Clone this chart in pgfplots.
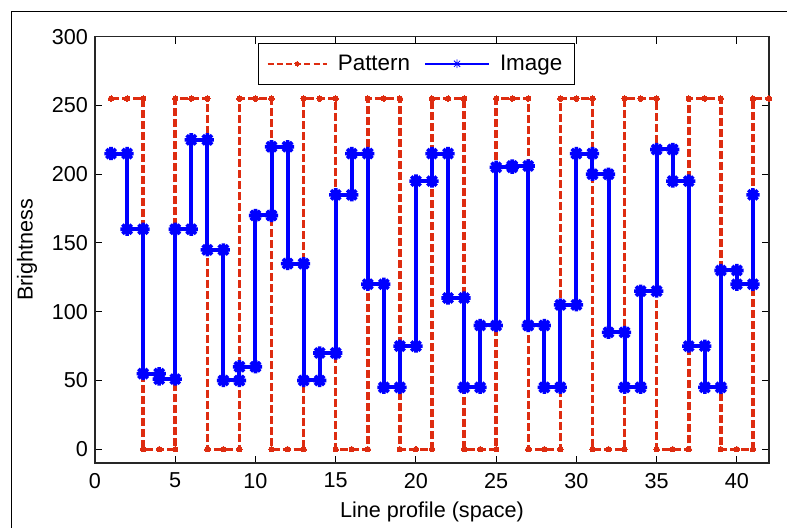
\documentclass[border=0pt]{standalone}
\usepackage{fontspec}
\setmainfont{Liberation Sans}
\usepackage{pgfplots}
\pgfplotsset{compat=1.18}
\definecolor{patred}{RGB}{222,44,16}
\definecolor{imgblue}{RGB}{0,0,255}
\pgfdeclareplotmark{mstar}{%
 \pgfpathmoveto{\pgfqpoint{-\pgfplotmarksize}{0pt}}\pgfpathlineto{\pgfqpoint{\pgfplotmarksize}{0pt}}%
 \pgfpathmoveto{\pgfqpoint{0pt}{-\pgfplotmarksize}}\pgfpathlineto{\pgfqpoint{0pt}{\pgfplotmarksize}}%
 \pgfpathmoveto{\pgfqpoint{-0.707\pgfplotmarksize}{-0.707\pgfplotmarksize}}\pgfpathlineto{\pgfqpoint{0.707\pgfplotmarksize}{0.707\pgfplotmarksize}}%
 \pgfpathmoveto{\pgfqpoint{-0.707\pgfplotmarksize}{0.707\pgfplotmarksize}}\pgfpathlineto{\pgfqpoint{0.707\pgfplotmarksize}{-0.707\pgfplotmarksize}}%
 \pgfusepathqstroke}
\begin{document}
\begin{tikzpicture}[font=\fontsize{10.8}{13}\selectfont]
\path[use as bounding box] (0pt,0pt) rectangle (393.5pt,263.5pt);
\draw[line width=0.5pt] (5.5pt,-1pt) -- (5.5pt,258pt) -- (395pt,258pt);
\begin{axis}[
  at={(47.5pt,32pt)}, anchor=south west,
  scale only axis, width=337pt, height=213.15pt,
  xmin=0, xmax=42, ymin=-10, ymax=300,
  xtick={0,5,...,40}, ytick={0,50,...,300},
  tick align=inside, major tick length=3.5pt,
  axis line style={line width=0.6pt, black!85},
  tick style={black, line width=0.5pt},
  /pgf/number format/assume math mode=true,
  xticklabel style={yshift=-1.5pt},
  xlabel={Line profile (space)},
  ylabel={Brightness},
  xlabel style={at={(axis description cs:0.5,0)}, anchor=center, yshift=-24.5pt},
  ylabel style={at={([xshift=-34pt]axis description cs:0,0.5)}, anchor=center},
  legend columns=2,
  legend style={at={(rel axis cs:0.2418,0.985)}, anchor=north west, draw=black, line width=0.5pt, fill=white, inner xsep=4pt, inner ysep=3.5pt, font=\fontsize{11.2}{13}\selectfont},
  /tikz/every even column/.append style={column sep=5pt},
  /tikz/every odd column/.append style={column sep=3pt},
]
\addplot[color=patred, line width=1.75pt, dash pattern=on 4pt off 1.5pt, mark=*, mark size=1.35pt, mark options={solid, fill=patred, draw=patred, line width=0pt},
  legend image code/.code={\draw[line width=1.1pt, dash pattern=on 3pt off 1.6pt, mark size=1.1pt, mark repeat=2, mark phase=2] plot coordinates {(0cm,0cm) (0.52cm,0cm) (1.04cm,0cm)};}] coordinates {
(1,255)(2,255)(3,255)(3,0)(4,0)(5,0)(5,255)(6,255)(7,255)(7,0)(8,0)(9,0)(9,255)(10,255)(11,255)(11,0)(12,0)(13,0)(13,255)(14,255)(15,255)(15,0)(16,0)(17,0)(17,255)(18,255)(19,255)(19,0)(20,0)(21,0)(21,255)(22,255)(23,255)(23,0)(24,0)(25,0)(25,255)(26,255)(27,255)(27,0)(28,0)(29,0)(29,255)(30,255)(31,255)(31,0)(32,0)(33,0)(33,255)(34,255)(35,255)(35,0)(36,0)(37,0)(37,255)(38,255)(39,255)(39,0)(40,0)(41,0)(41,255)(42,255)
};
\addlegendentry{Pattern}
\addplot[color=imgblue, line width=2pt, mark=mstar, mark size=3.3pt, mark options={solid, line width=1.8pt},
  legend image code/.code={\draw[line width=1.1pt, mark size=2.2pt, mark options={line width=0.4pt}, mark repeat=2, mark phase=2] plot coordinates {(0cm,0cm) (0.56cm,0cm) (1.12cm,0cm)};}] coordinates {
(1,215)(2,215)(2,160)(3,160)(3,55)(4,55)(4,51)(5,51)(5,160)(6,160)(6,225)(7,225)(7,145)(8,145)(8,50)(9,50)(9,60)(10,60)(10,170)(11,170)(11,220)(12,220)(12,135)(13,135)(13,50)(14,50)(14,70)(15,70)(15,185)(16,185)(16,215)(17,215)(17,120)(18,120)(18,45)(19,45)(19,75)(20,75)(20,195)(21,195)(21,215)(22,215)(22,110)(23,110)(23,45)(24,45)(24,90)(25,90)(25,205)(26,205)(26,206)(27,206)(27,90)(28,90)(28,45)(29,45)(29,105)(30,105)(30,215)(31,215)(31,200)(32,200)(32,85)(33,85)(33,45)(34,45)(34,115)(35,115)(35,218)(36,218)(36,195)(37,195)(37,75)(38,75)(38,45)(39,45)(39,130)(40,130)(40,120)(41,120)(41,185)
};
\addlegendentry{Image}
\end{axis}
\end{tikzpicture}
\end{document}
